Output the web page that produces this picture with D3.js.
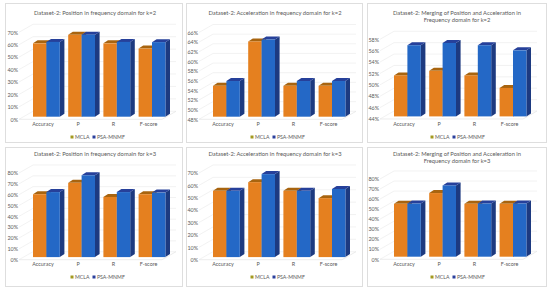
<!DOCTYPE html>
<html><head><meta charset="utf-8">
<script src="https://cdn.jsdelivr.net/npm/d3@7"></script>
<style>html,body{margin:0;padding:0;background:#fff}svg{display:block}text{font-family:Lato,"Liberation Sans",sans-serif;fill:#595959}</style>
</head><body><svg id="c" width="550" height="289"></svg>
<script>
const categories = ["Accuracy","P","R","F-score"];
const seriesNames = ["MCLA","PSA-MNMF"];
const titles = [
  ["Dataset-2: Position in frequency domain for k=2"],
  ["Dataset-2: Acceleration in frequency domain for k=2"],
  ["Dataset-2: Merging of Position and Acceleration in","Frequency domain for k=2"],
  ["Dataset-2: Position in frequency domain for k=3"],
  ["Dataset-2: Acceleration in frequency domain for k=3"],
  ["Dataset-2: Merging of Position and Acceleration in","Frequency domain for k=3"]
];
const mcla = [
  [59,65.9,59,54.8],
  [54.4,63.6,54.4,54.4],
  [51.2,52,51.2,49],
  [58,68.5,55.5,58],
  [53.5,60.5,53.5,47.6],
  [52.7,63.4,52.7,52.7]
];
const psa = [
  [60.2,66,60.2,60],
  [55.4,64,55.4,55.4],
  [56.5,56.9,56.5,55.6],
  [60,75.5,60,59.5],
  [53.5,67,53.5,55],
  [53,71,53,53]
];
const axisMin = [0,48,44,0,0,0];
const axisMax = [70,66,58,80,70,80];
const axisStep = [10,2,2,10,10,10];

const svg = d3.select("#c");
const colors = [
  {front:"#e5801f",top:"#a8640f",side:"#9a5c10",legend:"#a39a1e"},
  {front:"#2468c6",top:"#26409a",side:"#1d3a80",legend:"#2a3f9c"}
];
const panelX = [5,186,367], panelY = [3,147], panelW = [178,177,180], panelH = 140;
const frame = [
  {yTick:[119.3,32.3],first:33,right:176,catY:126,tx:95,ty:12.5,lx:72},
  {yTick:[119.3,32.5],first:213,right:356,catY:126,tx:275,ty:12.5,lx:252},
  {yTick:[119,39.3],first:394,right:537,catY:125.7,tx:457,ty:12.7,lx:432},
  {yTick:[259.7,173],first:33,right:176,catY:266,tx:95,ty:153.5,lx:72},
  {yTick:[259.7,173],first:213,right:356,catY:266,tx:275,ty:153.5,lx:252},
  {yTick:[259.3,179],first:394,right:537,catY:266,tx:457,ty:153.5,lx:432}
];
const legendY = [137,137,137,277,277,277];
const bd = 4.6, bh = 3, wd = 14, wh = 8, inset = 2.6;
const fontStack = 'Lato,"Liberation Sans",sans-serif';

frame.forEach((f,i)=>{
  const col=i%3,row=i>2?1:0;
  const g=svg.append("g");
  g.append("rect").attr("x",panelX[col]+.5).attr("y",panelY[row]+.5)
    .attr("width",panelW[col]-1).attr("height",panelH-1)
    .attr("fill","#fff").attr("stroke","#dedede").attr("stroke-width",1);

  titles[i].forEach((t,k)=>g.append("text").attr("x",f.tx).attr("y",f.ty+k*7.6+2)
    .attr("text-anchor","middle").attr("font-size",5.8).text(t));

  const y=d3.scaleLinear().domain([axisMin[i],axisMax[i]]).range(f.yTick);
  const tickVals=d3.range(axisMin[i],axisMax[i]+.01,axisStep[i]);
  const x=d3.scaleBand().domain(categories)
    .range([f.first-4.1,f.first-4.1+35.2*4]);
  const bw=13.4;
  const x0=f.first-14;

  tickVals.forEach(v=>{
    const yy=y(v);
    g.append("path").attr("fill","none").attr("stroke","#ececec").attr("stroke-width",.7)
      .attr("d",d3.line()([[x0,yy],[x0+wd,yy-wh],[f.right,yy-wh]]));
  });
  g.append("path").attr("fill","none").attr("stroke","#e4e4e4").attr("stroke-width",.7)
    .attr("d",d3.line()([[x0,y(axisMin[i])],[f.right-wd,y(axisMin[i])],[f.right,y(axisMin[i])-wh]]));

  const ya=g.append("g").attr("transform",`translate(${x0-1},0)`)
    .call(d3.axisLeft(y).tickValues(tickVals).tickSize(0).tickPadding(0).tickFormat(d=>d+"%"));
  ya.select(".domain").remove();
  ya.selectAll("text").attr("font-size",5.4).style("font-family",fontStack).attr("fill","#595959");

  const xa=g.append("g").attr("transform",`translate(-3.5,${f.catY-3})`)
    .call(d3.axisBottom(x).tickSize(0).tickPadding(0));
  xa.select(".domain").remove();
  xa.selectAll("text").attr("font-size",5.4).attr("dy",".6em").style("font-family",fontStack).attr("fill","#595959");

  const base=y(axisMin[i])-inset;
  categories.forEach((c,ci)=>{
    [mcla[i][ci],psa[i][ci]].forEach((v,si)=>{
      const left=x(c)+4.1+si*bw, right=left+bw;
      const top=base-(y(axisMin[i])-y(v));
      const k=colors[si];
      g.append("path").attr("fill",k.side)
        .attr("d",d3.line()([[right,base],[right+bd,base-bh],[right+bd,top-bh],[right,top]])+"Z");
      g.append("path").attr("fill",k.top)
        .attr("d",d3.line()([[left,top],[left+bd,top-bh],[right+bd,top-bh],[right,top]])+"Z");
      g.append("rect").attr("x",left).attr("y",top).attr("width",bw).attr("height",base-top).attr("fill",k.front);
    });
  });

  seriesNames.forEach((n,si)=>{
    const lx=f.lx+si*22;
    g.append("rect").attr("x",lx-1.5).attr("y",legendY[i]-1.5).attr("width",3).attr("height",3).attr("fill",colors[si].legend);
    g.append("text").attr("x",lx+3).attr("y",legendY[i]+2).attr("font-size",5.2).text(n);
  });
});
</script></body></html>
